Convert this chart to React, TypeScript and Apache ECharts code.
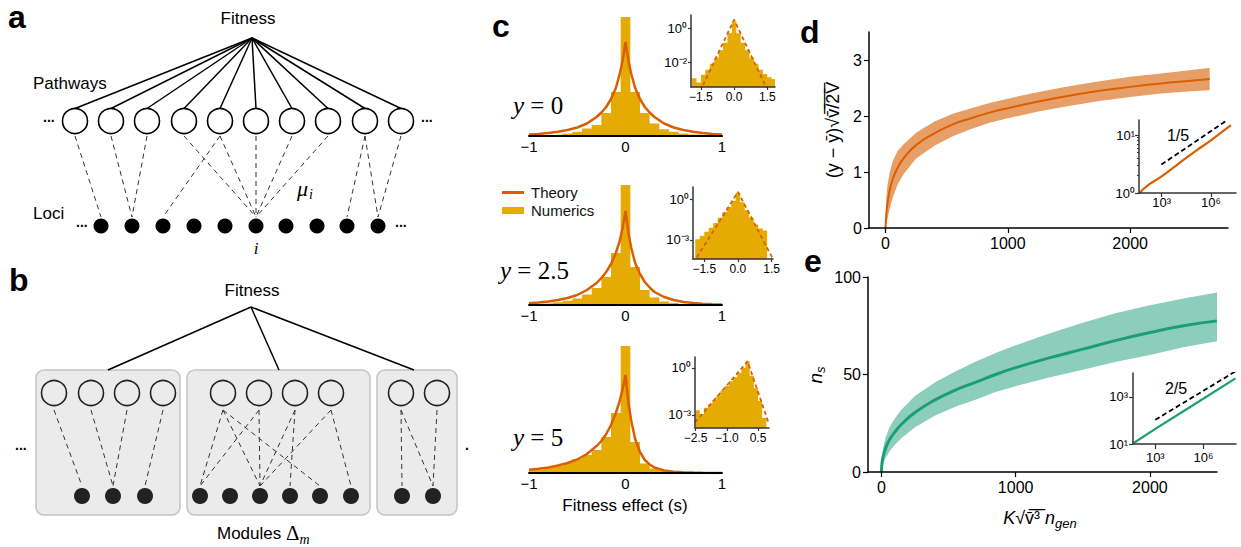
import React, { useEffect, useRef } from 'react';
import * as echarts from 'echarts';

const SANS = '"Liberation Sans", Arial, Helvetica, sans-serif';
const SERIF = '"Liberation Serif", "DejaVu Serif", serif';
const ORANGE = '#d95f02';
const YELLOW = '#e6ab02';
const GREEN = '#1b9e77';

// ---------- panel c: main histograms (bin centres, bin width 0.1) ----------
const cBinCenters = [-1.0, -0.9, -0.8, -0.7, -0.6, -0.5, -0.4, -0.3, -0.2, -0.1, 0, 0.1, 0.2, 0.3, 0.4, 0.5, 0.6, 0.7, 0.8, 0.9, 1.0];
const cBinWidth = 0.1;
const histY0 = [0.02, 0.03, 0.05, 0.08, 0.13, 0.215, 0.375, 0.55, 1.15, 2.2, 5.95, 2.2, 1.15, 0.625, 0.335, 0.215, 0.13, 0.08, 0.05, 0.03, 0.02];
const histY25 = [0.04, 0.06, 0.09, 0.14, 0.21, 0.325, 0.525, 0.85, 1.4, 2.6, 6.0, 1.9, 0.75, 0.375, 0.175, 0.1, 0.055, 0.03, 0.02, 0.01, 0.005];
const histY5 = [0.125, 0.175, 0.25, 0.35, 0.5, 0.7, 0.9, 1.15, 1.8, 3.0, 6.35, 1.55, 0.475, 0.225, 0.1, 0.05, 0.025, 0.015, 0.01, 0.005, 0.0025];

const theoryX = [-1, -0.9, -0.8, -0.7, -0.6, -0.5, -0.4, -0.3, -0.25, -0.2, -0.15, -0.1, -0.06, -0.03, 0, 0.03, 0.06, 0.1, 0.15, 0.2, 0.25, 0.3, 0.4, 0.5, 0.6, 0.7, 0.8, 0.9, 1];
const theoryY0 = [0.07, 0.1, 0.15, 0.21, 0.3, 0.425, 0.625, 0.95, 1.175, 1.45, 1.85, 2.4, 3.1, 3.75, 4.7, 3.75, 3.1, 2.4, 1.85, 1.45, 1.175, 0.95, 0.625, 0.425, 0.3, 0.21, 0.15, 0.1, 0.07];
const theoryY25 = [0.09, 0.125, 0.175, 0.25, 0.35, 0.5, 0.75, 1.1, 1.35, 1.65, 2.05, 2.6, 3.2, 3.85, 4.7, 3.6, 2.85, 2.1, 1.55, 1.15, 0.875, 0.65, 0.4, 0.25, 0.15, 0.1, 0.06, 0.04, 0.025];
const theoryY5 = [0.165, 0.21, 0.275, 0.375, 0.5, 0.675, 0.95, 1.35, 1.6, 1.95, 2.4, 3.0, 3.6, 4.2, 4.9, 3.5, 2.6, 1.7, 1.05, 0.65, 0.425, 0.275, 0.125, 0.065, 0.035, 0.02, 0.01, 0.005, 0.003];

// ---------- panel c: log-scale insets (bin width 0.2) ----------
const insetBinWidth = 0.2;
const in0Centers = [-1.8, -1.6, -1.4, -1.2, -1.0, -0.8, -0.6, -0.4, -0.2, 0, 0.2, 0.4, 0.6, 0.8, 1.0, 1.2, 1.4, 1.6, 1.8];
const in0Density = [0.00112, 0.00063, 0.00178, 0.00355, 0.0079, 0.0178, 0.05, 0.141, 0.5, 2.51, 0.5, 0.141, 0.05, 0.0178, 0.0079, 0.00355, 0.002, 0.00126, 0.001];
const in0TheoryX = [-1.95, 0, 1.85];
const in0TheoryY = [1.4e-5, 3.16, 2.6e-5];

const in25Centers = [-1.8, -1.6, -1.4, -1.2, -1.0, -0.8, -0.6, -0.4, -0.2, 0, 0.2, 0.4, 0.6, 0.8, 1.0, 1.2];
const in25Density = [0.00112, 0.002, 0.004, 0.0079, 0.0178, 0.0447, 0.112, 0.282, 0.794, 3.16, 0.631, 0.158, 0.0447, 0.0141, 0.0071, 0.005];
const in25TheoryX = [-2.0, 0, 1.56];
const in25TheoryY = [1.8e-5, 3.63, 3.7e-5];

const in5Centers = [-2.4, -2.2, -2.0, -1.8, -1.6, -1.4, -1.2, -1.0, -0.8, -0.6, -0.4, -0.2, 0, 0.2, 0.4, 0.6, 0.8];
const in5Density = [0.002, 0.00112, 0.00282, 0.005, 0.0089, 0.0178, 0.0355, 0.0708, 0.141, 0.251, 0.501, 1.0, 2.63, 0.316, 0.0501, 0.0079, 0.00063];
const in5TheoryX = [-2.53, 0, 1.03];
const in5TheoryY = [3.3e-4, 2.63, 2.5e-4];

// ---------- panel d ----------
const dX = [0, 5, 15, 35, 60, 100, 150, 250, 400, 550, 700, 850, 1000, 1250, 1500, 1750, 2000, 2250, 2500, 2650];
const dMean = [0, 0.2, 0.42, 0.68, 0.88, 1.08, 1.25, 1.48, 1.69, 1.85, 1.96, 2.06, 2.14, 2.26, 2.36, 2.45, 2.52, 2.58, 2.63, 2.66];
const dUpper = [0, 0.45, 0.75, 1.0, 1.2, 1.38, 1.5, 1.7, 1.9, 2.04, 2.14, 2.23, 2.31, 2.43, 2.53, 2.62, 2.7, 2.76, 2.82, 2.86];
const dLower = [0, 0.05, 0.15, 0.35, 0.55, 0.78, 0.97, 1.24, 1.47, 1.64, 1.77, 1.88, 1.96, 2.08, 2.18, 2.27, 2.34, 2.4, 2.44, 2.46];
const dInsetX = [44, 158, 1000, 1e4, 1e5, 1e6, 1.66e7];
const dInsetY = [1, 1.38, 1.93, 3.16, 5.13, 8.13, 14.8];
const dRefX = [955, 9.1e6];
const dRefY = [3.09, 17.8];

// ---------- panel e ----------
const eX = [0, 5, 15, 30, 60, 100, 150, 250, 400, 550, 700, 850, 1000, 1250, 1500, 1750, 2000, 2250, 2500];
const eMean = [0, 5, 8.5, 12, 16.5, 20.5, 24.5, 30.5, 37, 42, 46, 50, 53.5, 58.5, 63, 67.5, 71.5, 75, 77.5];
const eUpper = [0, 8, 13, 17.5, 23, 27.5, 32, 39, 46, 51.5, 56.5, 61, 65, 71, 76.5, 81.5, 85.5, 89, 92];
const eLower = [0, 2, 4.5, 7, 10.5, 14, 17.5, 23, 29, 33.5, 37, 41, 44, 48.5, 52.5, 56.5, 60, 64, 67];
const eInsetX = [45, 1000, 1e5, 1e8];
const eInsetY = [11, 43.7, 316, 6200];
const eRefX = [1000, 1e8];
const eRefY = [107, 12300];

// ---------- tick values ----------
const cMainTicks = [-1, 0, 1];
const cInsetTicksA = [-1.5, 0, 1.5];
const cInsetTicksB = [-2.5, -1.0, 0.5];
const cInsetYTicksA = [-2, 0];
const cInsetYTicksB = [-3, 0];
const deXTicks = [0, 1000, 2000];
const dYTicks = [0, 1, 2, 3];
const eYTicks = [0, 50, 100];
const logXTicks = [3, 6];
const dLogYTicks = [0, 1];
const eLogYTicks = [1, 3];
const dMinorY = [2, 3, 4, 5, 6, 7, 8, 9];

const SUP: Record<string, string> = { '0': '⁰', '1': '¹', '2': '²', '3': '³', '4': '⁴', '5': '⁵', '6': '⁶', '7': '⁷', '8': '⁸', '9': '⁹', '-': '⁻' };
const pow10 = (v: number) => '10' + String(Math.round(v)).split('').map((c) => SUP[c]).join('');
const signed = (s: string) => s.replace('-', '−');
const fmtInt = (v: number) => signed(String(v));
const fmt1 = (v: number) => signed(v.toFixed(1));

const stepData = (centers: number[], vals: number[], w: number, log: boolean) => {
  const f = (v: number) => (log ? Math.log10(v) : v);
  const pts = centers.map((c, i) => [c - w / 2, f(vals[i])]);
  pts.push([centers[centers.length - 1] + w / 2, f(vals[vals.length - 1])]);
  return pts;
};
const pairs = (xs: number[], ys: number[]) => xs.map((x, i) => [x, ys[i]]);
const logPairs = (xs: number[], ys: number[]) => xs.map((x, i) => [Math.log10(x), Math.log10(ys[i])]);

function axis(o: any) {
  return {
    type: 'value',
    gridIndex: o.grid,
    min: o.min,
    max: o.max,
    show: o.show !== false,
    position: o.position,
    z: 5,
    axisLine: { show: o.line !== false, onZero: false, lineStyle: { color: o.color || '#000', width: o.lw || 1.5 } },
    axisTick: {
      show: (o.tickLen || 0) > 0,
      length: o.tickLen || 0,
      inside: false,
      customValues: o.tickValues || o.ticks,
      lineStyle: { color: o.color || '#000', width: 1.2 },
    },
    axisLabel: {
      show: o.labels !== false,
      customValues: o.ticks,
      formatter: o.fmt,
      color: '#000',
      fontFamily: SANS,
      fontSize: o.fs || 15,
      margin: o.margin ?? 6,
    },
    splitLine: { show: false },
    minorTick: { show: false },
  };
}

// ---------- diagram layout (panels a, b) ----------
const aApex = [252, 38];
const aPathX = [75, 111, 147, 184, 220, 256, 292, 328, 365, 401];
const aPathY = 121;
const aLociX = [101, 132, 163, 194, 225, 256, 286, 317, 347, 378];
const aLociY = 226;
const aLinks = [[0, 0], [1, 1], [2, 1], [3, 5], [4, 2], [4, 5], [5, 5], [6, 5], [7, 5], [8, 8], [8, 9], [9, 9]];

const bApex = [251, 307];
const bBoxes = [
  { x: 36, w: 144, circles: [54, 91, 127, 163], dots: [82, 113, 145], links: [[0, 0], [1, 1], [2, 1], [3, 2]], top: [108, 370] },
  { x: 187, w: 183, circles: [223, 259, 295, 331], dots: [200, 230, 260, 290, 320, 351], links: [[0, 0], [0, 2], [0, 4], [1, 0], [1, 2], [2, 2], [2, 3], [3, 2], [3, 5]], top: [279, 370] },
  { x: 377, w: 80, circles: [401, 437], dots: [402, 433], links: [[0, 0], [0, 1], [1, 1]], top: [414, 370] },
];

function text(x: number, y: number, t: string, style: any = {}, extra: any = {}) {
  return {
    type: 'text',
    x,
    y,
    silent: true,
    z: 50,
    ...extra,
    style: { text: t, fill: '#000', fontFamily: SANS, fontSize: 17, textAlign: 'left', textVerticalAlign: 'middle', ...style },
  };
}
const solid = (x1: number, y1: number, x2: number, y2: number, color = '#000', w = 1.5) => ({
  type: 'line', silent: true, z: 10, shape: { x1, y1, x2, y2 }, style: { stroke: color, lineWidth: w },
});
const dashed = (x1: number, y1: number, x2: number, y2: number) => ({
  type: 'line', silent: true, z: 10, shape: { x1, y1, x2, y2 }, style: { stroke: '#333', lineWidth: 1, lineDash: [5, 4] },
});
const ring = (cx: number, cy: number, r: number, stroke = '#000') => ({
  type: 'circle', silent: true, z: 12, shape: { cx, cy, r }, style: { fill: 'rgba(0,0,0,0)', stroke, lineWidth: 1.6 },
});
const dot = (cx: number, cy: number, r: number, fill = '#000') => ({
  type: 'circle', silent: true, z: 12, shape: { cx, cy, r }, style: { fill },
});

function diagram() {
  const els: any[] = [];
  // panel a
  els.push(text(8, 17, 'a', { fontSize: 32, fontWeight: 'bold' }));
  els.push(text(248, 18, 'Fitness', { textAlign: 'center' }));
  els.push(text(33, 83, 'Pathways'));
  els.push(text(33, 213, 'Loci'));
  aPathX.forEach((x) => {
    els.push(solid(aApex[0], aApex[1], x, aPathY - 12.5));
    els.push(ring(x, aPathY, 12.5));
  });
  aLociX.forEach((x) => els.push(dot(x, aLociY, 7.5)));
  aLinks.forEach(([p, l]) => els.push(dashed(aPathX[p], aPathY + 15, aLociX[l], aLociY - 9)));
  els.push(text(43, aPathY - 4, '...', { fontSize: 14, fontWeight: 'bold' }));
  els.push(text(421, aPathY - 4, '...', { fontSize: 14, fontWeight: 'bold' }));
  els.push(text(76, aLociY - 4, '...', { fontSize: 14, fontWeight: 'bold' }));
  els.push(text(395, aLociY - 4, '...', { fontSize: 14, fontWeight: 'bold' }));
  els.push(text(256, 248, 'i', { fontFamily: SERIF, fontStyle: 'italic', fontSize: 17, textAlign: 'center' }));
  els.push(
    text(297, 188, '{m|μ}{s|i}', {
      rich: {
        m: { fontFamily: SERIF, fontStyle: 'italic', fontSize: 22, fill: '#000' },
        s: { fontFamily: SERIF, fontStyle: 'italic', fontSize: 14, fill: '#000', padding: [12, 0, 0, 1] },
      },
    })
  );

  // panel b
  els.push(text(9, 280, 'b', { fontSize: 32, fontWeight: 'bold' }));
  els.push(text(252, 290, 'Fitness', { textAlign: 'center' }));
  bBoxes.forEach((b) => {
    els.push({
      type: 'rect', silent: true, z: 5,
      shape: { x: b.x, y: 370, width: b.w, height: 145, r: 8 },
      style: { fill: '#ebebeb', stroke: '#c4c4c4', lineWidth: 1.5 },
    });
    els.push(solid(bApex[0], bApex[1], b.top[0], b.top[1]));
    b.circles.forEach((x) => els.push(ring(x, 393, 12.5, '#222')));
    b.dots.forEach((x) => els.push(dot(x, 496, 8, '#222')));
    b.links.forEach(([c, d]) => els.push(dashed(b.circles[c], 410, b.dots[d], 486)));
  });
  els.push(text(15, 445, '...', { fontSize: 14, fontWeight: 'bold' }));
  els.push(text(465, 445, '.', { fontSize: 14, fontWeight: 'bold' }));
  els.push(
    text(217, 533, '{t|Modules }{d|Δ}{s|m}', {
      rich: {
        t: { fontFamily: SANS, fontSize: 17, fill: '#000' },
        d: { fontFamily: SERIF, fontSize: 21, fill: '#000' },
        s: { fontFamily: SERIF, fontStyle: 'italic', fontSize: 14, fill: '#000', padding: [12, 0, 0, 0] },
      },
    })
  );

  // panel c labels
  els.push(text(492, 26, 'c', { fontSize: 32, fontWeight: 'bold' }));
  const yl = (x: number, y: number, v: string) =>
    text(x, y, '{y|y}{r| = ' + v + '}', {
      rich: {
        y: { fontFamily: SERIF, fontStyle: 'italic', fontSize: 25, fill: '#000' },
        r: { fontFamily: SERIF, fontSize: 25, fill: '#000' },
      },
    });
  els.push(yl(513, 105, '0'));
  els.push(yl(500, 270, '2.5'));
  els.push(yl(513, 437, '5'));
  els.push(text(625, 505, 'Fitness effect (s)', { textAlign: 'center', fontSize: 17 }));

  // panel d labels
  els.push(text(800, 32, 'd', { fontSize: 32, fontWeight: 'bold' }));
  els.push(
    text(833, 130, '(y − ȳ)√v\u0304\u0305/\u03052\u0305V\u0305', { textAlign: 'center', fontSize: 18 }, { rotation: Math.PI / 2 })
  );
  els.push(text(1178, 135, '1/5', { textAlign: 'center', fontSize: 16 }));

  // panel e labels
  els.push(text(804, 261, 'e', { fontSize: 32, fontWeight: 'bold' }));
  els.push(
    text(815, 375, '{n|n}{s|s}', {
      textAlign: 'center',
      rich: {
        n: { fontFamily: SANS, fontStyle: 'italic', fontSize: 19, fill: '#000' },
        s: { fontFamily: SANS, fontStyle: 'italic', fontSize: 13, fill: '#000', padding: [10, 0, 0, 0] },
      },
    }, { rotation: Math.PI / 2 })
  );
  els.push(
    text(1040, 518, '{k|K}{r|√}{v|v\u0304\u0305³\u0305}{n| n}{s|gen}', {
      textAlign: 'center',
      rich: {
        k: { fontFamily: SANS, fontStyle: 'italic', fontSize: 18, fill: '#000' },
        r: { fontFamily: SANS, fontSize: 18, fill: '#000' },
        v: { fontFamily: SANS, fontSize: 18, fill: '#000' },
        n: { fontFamily: SANS, fontStyle: 'italic', fontSize: 18, fill: '#000' },
        s: { fontFamily: SANS, fontStyle: 'italic', fontSize: 13, fill: '#000', padding: [10, 0, 0, 0] },
      },
    })
  );
  els.push(text(1176, 388, '2/5', { textAlign: 'center', fontSize: 16 }));
  return els;
}

function buildOption(): any {
  const grid = [
    { left: 529, top: 6, width: 193, height: 130 },
    { left: 529, top: 175, width: 193, height: 130 },
    { left: 529, top: 343, width: 193, height: 130 },
    { left: 691, top: 15, width: 84, height: 72 },
    { left: 693, top: 187, width: 80, height: 72 },
    { left: 695, top: 357, width: 74, height: 71 },
    { left: 869, top: 32, width: 359, height: 196 },
    { left: 1139, top: 120, width: 97, height: 73 },
    { left: 868, top: 277, width: 349, height: 195 },
    { left: 1133, top: 373, width: 103, height: 71 },
  ];
  const xAxis = [
    axis({ grid: 0, min: -1, max: 1, ticks: cMainTicks, fmt: fmtInt, fs: 15, margin: 3, lw: 2 }),
    axis({ grid: 1, min: -1, max: 1, ticks: cMainTicks, fmt: fmtInt, fs: 15, margin: 3, lw: 2 }),
    axis({ grid: 2, min: -1, max: 1, ticks: cMainTicks, fmt: fmtInt, fs: 15, margin: 3, lw: 2 }),
    axis({ grid: 3, min: -1.95, max: 1.85, ticks: cInsetTicksA, fmt: fmt1, fs: 12, margin: 4, tickLen: 3, color: '#333' }),
    axis({ grid: 4, min: -2.0, max: 1.56, ticks: cInsetTicksA, fmt: fmt1, fs: 12, margin: 4, tickLen: 3, color: '#333' }),
    axis({ grid: 5, min: -2.53, max: 1.03, ticks: cInsetTicksB, fmt: fmt1, fs: 12, margin: 4, tickLen: 3, color: '#333' }),
    axis({ grid: 6, min: -135, max: 2800, ticks: deXTicks, fmt: fmtInt, fs: 16, margin: 7, tickLen: 5 }),
    axis({ grid: 7, min: 1.62, max: 7.53, ticks: logXTicks, fmt: pow10, fs: 13, margin: 3, tickLen: 4, color: '#333' }),
    axis({ grid: 8, min: -100, max: 2500, ticks: deXTicks, fmt: fmtInt, fs: 16, margin: 7, tickLen: 5 }),
    axis({ grid: 9, min: 1.61, max: 8.03, ticks: logXTicks, fmt: pow10, fs: 13, margin: 7, tickLen: 5, color: '#333' }),
  ];
  const yAxis = [
    axis({ grid: 0, min: 0, max: 6.5, show: false }),
    axis({ grid: 1, min: 0, max: 6.5, show: false }),
    axis({ grid: 2, min: 0, max: 6.5, show: false }),
    axis({ grid: 3, min: -3.47, max: 0.78, ticks: cInsetYTicksA, fmt: pow10, fs: 13, margin: 4, tickLen: 3, color: '#333' }),
    axis({ grid: 4, min: -4.42, max: 0.93, ticks: cInsetYTicksB, fmt: pow10, fs: 13, margin: 4, tickLen: 3, color: '#333' }),
    axis({ grid: 5, min: -3.84, max: 0.7, ticks: cInsetYTicksB, fmt: pow10, fs: 13, margin: 4, tickLen: 3, color: '#333' }),
    axis({ grid: 6, min: 0, max: 3.5, ticks: dYTicks, fmt: fmtInt, fs: 16, margin: 7, tickLen: 5 }),
    axis({ grid: 7, min: 0, max: 1.26, ticks: dLogYTicks, fmt: pow10, fs: 13, margin: 4, tickLen: 4, color: '#333' }),
    axis({ grid: 8, min: 0, max: 100, ticks: eYTicks, fmt: fmtInt, fs: 16, margin: 7, tickLen: 5 }),
    axis({ grid: 9, min: 1, max: 4.02, ticks: eLogYTicks, fmt: pow10, fs: 13, margin: 5, tickLen: 4, color: '#333' }),
    axis({ grid: 7, min: 0, max: 1.26, line: false, labels: false, ticks: [], tickValues: dMinorY.map((v) => Math.log10(v)), tickLen: 2, color: '#333', position: 'left' }),
  ];

  const hist = (i: number, centers: number[], vals: number[], w: number, log: boolean) => ({
    type: 'line', name: log ? 'Numerics (log)' : 'Numerics', xAxisIndex: i, yAxisIndex: i,
    step: 'end', data: stepData(centers, vals, w, log), symbol: 'none', showSymbol: false,
    lineStyle: { width: 0, color: YELLOW }, itemStyle: { color: YELLOW },
    areaStyle: { color: YELLOW, opacity: 1, origin: 'start' }, z: 2, silent: true,
  });
  const theory = (i: number, xs: number[], ys: number[]) => ({
    type: 'line', name: 'Theory', xAxisIndex: i, yAxisIndex: i, data: pairs(xs, ys),
    symbol: 'none', showSymbol: false, lineStyle: { color: ORANGE, width: 2.5 }, itemStyle: { color: ORANGE }, z: 3, silent: true,
  });
  const theoryLog = (i: number, xs: number[], ys: number[]) => ({
    type: 'line', name: 'Theory (log)', xAxisIndex: i, yAxisIndex: i,
    data: xs.map((x, k) => [x, Math.log10(ys[k])]),
    symbol: 'none', showSymbol: false, lineStyle: { color: ORANGE, width: 1.8, type: [4, 3] }, z: 3, silent: true,
  });
  // confidence band drawn as one polygon between the lower and upper curves
  const band = (i: number, xs: number[], lo: number[], hi: number[], color: string, key: string) => ({
    type: 'custom', name: key, xAxisIndex: i, yAxisIndex: i, silent: true, z: 1,
    data: xs.map((x, k) => [x, lo[k], hi[k]]),
    encode: { x: 0, y: [1, 2] },
    renderItem: (params: any, api: any) => {
      if (params.dataIndexInside !== 0) return null;
      const n = params.dataInsideLength;
      const top: number[][] = [];
      const bot: number[][] = [];
      for (let k = 0; k < n; k++) {
        top.push(api.coord([api.value(0, k), api.value(2, k)]));
        bot.push(api.coord([api.value(0, k), api.value(1, k)]));
      }
      return { type: 'polygon', shape: { points: top.concat(bot.reverse()) }, style: { fill: color } };
    },
  });

  const series: any[] = [
    hist(0, cBinCenters, histY0, cBinWidth, false),
    hist(1, cBinCenters, histY25, cBinWidth, false),
    hist(2, cBinCenters, histY5, cBinWidth, false),
    theory(0, theoryX, theoryY0),
    theory(1, theoryX, theoryY25),
    theory(2, theoryX, theoryY5),
    hist(3, in0Centers, in0Density, insetBinWidth, true),
    hist(4, in25Centers, in25Density, insetBinWidth, true),
    hist(5, in5Centers, in5Density, insetBinWidth, true),
    theoryLog(3, in0TheoryX, in0TheoryY),
    theoryLog(4, in25TheoryX, in25TheoryY),
    theoryLog(5, in5TheoryX, in5TheoryY),
    band(6, dX, dLower, dUpper, 'rgba(217,95,2,0.6)', 'dband'),
    {
      type: 'line', name: 'd mean', xAxisIndex: 6, yAxisIndex: 6, data: pairs(dX, dMean), smooth: true,
      symbol: 'none', showSymbol: false, lineStyle: { color: ORANGE, width: 2 }, z: 3, silent: true,
    },
    {
      type: 'line', name: 'd inset', xAxisIndex: 7, yAxisIndex: 7, data: logPairs(dInsetX, dInsetY), smooth: true,
      symbol: 'none', showSymbol: false, lineStyle: { color: ORANGE, width: 2.2 }, z: 3, silent: true,
    },
    {
      type: 'line', name: 'd ref', xAxisIndex: 7, yAxisIndex: 7, data: logPairs(dRefX, dRefY),
      symbol: 'none', showSymbol: false, lineStyle: { color: '#000', width: 1.8, type: [5, 3] }, z: 3, silent: true,
    },
    band(8, eX, eLower, eUpper, 'rgba(27,158,119,0.5)', 'eband'),
    {
      type: 'line', name: 'e mean', xAxisIndex: 8, yAxisIndex: 8, data: pairs(eX, eMean), smooth: true,
      symbol: 'none', showSymbol: false, lineStyle: { color: GREEN, width: 3 }, z: 3, silent: true,
    },
    {
      type: 'line', name: 'e inset', xAxisIndex: 9, yAxisIndex: 9, data: logPairs(eInsetX, eInsetY),
      symbol: 'none', showSymbol: false, lineStyle: { color: GREEN, width: 2.2 }, z: 3, silent: true,
    },
    {
      type: 'line', name: 'e ref', xAxisIndex: 9, yAxisIndex: 9, data: logPairs(eRefX, eRefY),
      symbol: 'none', showSymbol: false, lineStyle: { color: '#000', width: 1.8, type: [5, 3] }, z: 3, silent: true,
    },
  ];

  const legendText = { fontFamily: SANS, fontSize: 15, color: '#111', padding: [0, 0, 0, 2] };
  return {
    animation: false,
    backgroundColor: '#fff',
    grid,
    xAxis,
    yAxis,
    series,
    legend: [
      {
        show: true, left: 502, top: 185, padding: 0, itemWidth: 22, itemHeight: 3, icon: 'rect',
        selectedMode: false, data: ['Theory'], textStyle: legendText,
      },
      {
        show: true, left: 502, top: 203, padding: 0, itemWidth: 22, itemHeight: 7, icon: 'rect',
        selectedMode: false, data: ['Numerics'], textStyle: legendText,
      },
    ],
    graphic: { elements: diagram() },
  };
}

export default function App() {
  const ref = useRef<HTMLDivElement>(null);
  useEffect(() => {
    if (!ref.current) return;
    const chart = echarts.init(ref.current, null, { renderer: 'svg' });
    chart.setOption(buildOption());
    return () => chart.dispose();
  }, []);
  return (
    <div
      ref={ref}
      style={{ position: 'absolute', left: 0, top: 0, width: 1241, height: 547, background: '#fff' }}
    />
  );
}
